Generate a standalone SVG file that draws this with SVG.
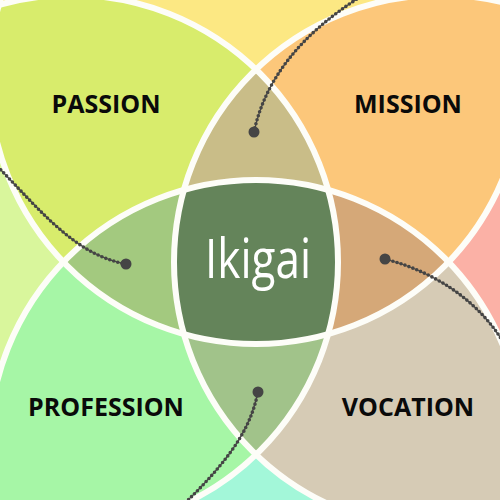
<svg xmlns="http://www.w3.org/2000/svg" width="500" height="500" viewBox="0 0 500 500">
<style>
.edge{fill:none;stroke:#fdfdf8;stroke-width:6}
.lbl{font-family:"Open Sans","Noto Sans","Liberation Sans",sans-serif;font-weight:700;font-size:25px;fill:#0a0a0a;text-anchor:middle}
.ttl{font-family:"Open Sans","Noto Sans","Liberation Sans",sans-serif;font-weight:500;font-size:54px;fill:#ffffff;text-anchor:middle}
.wire{fill:none;stroke:#454545;stroke-width:1.2}
.bead{fill:none;stroke:#454545;stroke-width:3.6;stroke-linecap:round;stroke-dasharray:0 4.2}
.knob{fill:#454545}
</style>
<defs>
<clipPath id="cT"><circle cx="256" cy="77" r="267"/></clipPath>
<clipPath id="cL"><circle cx="71" cy="262" r="267"/></clipPath>
<clipPath id="cR"><circle cx="441" cy="262" r="267"/></clipPath>
<clipPath id="cB"><circle cx="256" cy="447" r="267"/></clipPath>
</defs>
<rect width="500" height="500" fill="#d8ec6c"/>
<rect x="250" width="250" height="250" fill="#fcc77a"/>
<rect y="250" width="250" height="250" fill="#a6f6a6"/>
<rect x="250" y="250" width="250" height="250" fill="#d6cbb5"/>
<g id="love"><circle cx="256" cy="77" r="267" fill="#fce883"/></g>
<g id="good"><circle cx="71" cy="262" r="267" fill="#d9f69c"/></g>
<g id="needs"><circle cx="441" cy="262" r="267" fill="#fbb1a6"/></g>
<g id="paid"><circle cx="256" cy="447" r="267" fill="#a3f7d9"/></g>
<g id="passion">
<g clip-path="url(#cT)"><circle cx="71" cy="262" r="267" fill="#d8ec6c"/></g>
<text class="lbl" x="106" y="113">PASSION</text>
</g>
<g id="mission">
<g clip-path="url(#cT)"><circle cx="441" cy="262" r="267" fill="#fcc77a"/></g>
<text class="lbl" x="408" y="113">MISSION</text>
</g>
<g id="profession">
<g clip-path="url(#cL)"><circle cx="256" cy="447" r="267" fill="#a6f6a6"/></g>
<text class="lbl" x="106" y="416">PROFESSION</text>
</g>
<g id="vocation">
<g clip-path="url(#cR)"><circle cx="256" cy="447" r="267" fill="#d6cbb5"/></g>
<text class="lbl" x="408" y="416">VOCATION</text>
</g>
<g id="top-mid"><g clip-path="url(#cT)"><g clip-path="url(#cL)"><circle cx="441" cy="262" r="267" fill="#c9bd88"/></g></g></g>
<g id="left-mid"><g clip-path="url(#cT)"><g clip-path="url(#cL)"><circle cx="256" cy="447" r="267" fill="#a3c97f"/></g></g></g>
<g id="right-mid"><g clip-path="url(#cT)"><g clip-path="url(#cR)"><circle cx="256" cy="447" r="267" fill="#d5a878"/></g></g></g>
<g id="bottom-mid"><g clip-path="url(#cB)"><g clip-path="url(#cL)"><circle cx="441" cy="262" r="267" fill="#a1c38a"/></g></g></g>
<g id="ikigai">
<g clip-path="url(#cT)"><g clip-path="url(#cL)"><g clip-path="url(#cR)"><circle cx="256" cy="447" r="267" fill="#64845a"/></g></g></g>
<text class="ttl" x="258" y="278" textLength="106" lengthAdjust="spacingAndGlyphs">Ikigai</text>
</g>
<g id="edges">
<circle class="edge" cx="256" cy="77" r="267"/>
<circle class="edge" cx="71" cy="262" r="267"/>
<circle class="edge" cx="441" cy="262" r="267"/>
<circle class="edge" cx="256" cy="447" r="267"/>
</g>
<g id="connectors">
<path class="wire" d="M254,132 C265,80 300,35 360,-3"/>
<path class="bead" d="M254,132 C265,80 300,35 360,-3"/>
<path class="wire" d="M126,264 C75,255 40,210 -2,167"/>
<path class="bead" d="M126,264 C75,255 40,210 -2,167"/>
<path class="wire" d="M385,259 C420,268 470,290 502,340"/>
<path class="bead" d="M385,259 C420,268 470,290 502,340"/>
<path class="wire" d="M258,392 C252,420 240,450 185,503"/>
<path class="bead" d="M258,392 C252,420 240,450 185,503"/>
<circle class="knob" cx="254" cy="132" r="5.5"/>
<circle class="knob" cx="126" cy="264" r="5.5"/>
<circle class="knob" cx="385" cy="259" r="5.5"/>
<circle class="knob" cx="258" cy="392" r="5.5"/>
</g>
</svg>
